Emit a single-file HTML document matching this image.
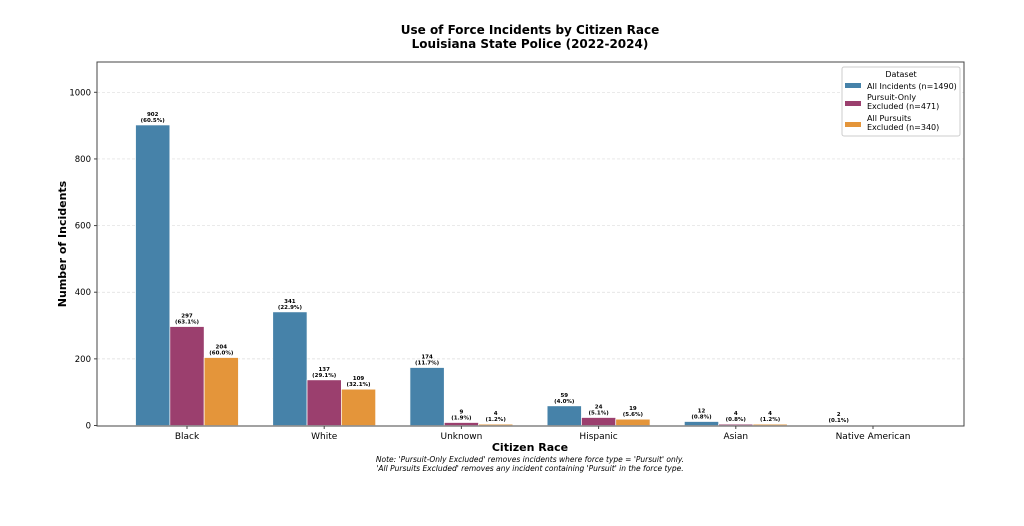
<!DOCTYPE html>
<html><head><meta charset="utf-8"><style>
body{margin:0;background:#fff;}
svg{display:block;font-family:"DejaVu Sans","Liberation Sans",sans-serif;}
</style></head><body>
<svg id="chart" width="1024" height="526" viewBox="0 0 1024 526">
<text x="530" y="34" text-anchor="middle" font-size="12" font-weight="bold">Use of Force Incidents by Citizen Race</text>
<text x="530" y="48" text-anchor="middle" font-size="12" font-weight="bold">Louisiana State Police (2022-2024)</text>
<g id="grid"></g>
<g id="bars"></g>
<g id="labels"></g>
<g id="axes"></g>
<rect x="97" y="62" width="867" height="364" fill="none" stroke="#444" stroke-width="1"/>
<text transform="translate(66,244) rotate(-90)" text-anchor="middle" font-size="11" font-weight="bold">Number of Incidents</text>
<text x="530" y="451" text-anchor="middle" font-size="11" font-weight="bold">Citizen Race</text>
<text x="530" y="462" text-anchor="middle" font-size="7.5" font-style="italic">Note: 'Pursuit-Only Excluded' removes incidents where force type = 'Pursuit' only.</text>
<text x="530" y="471" text-anchor="middle" font-size="7.5" font-style="italic">'All Pursuits Excluded' removes any incident containing 'Pursuit' in the force type.</text>
<g>
<rect x="842" y="67" width="118" height="69" fill="#fff" stroke="#ccc" rx="2"/>
<text x="901" y="77" text-anchor="middle" font-size="8">Dataset</text>
<rect x="845" y="83" width="16" height="5" fill="#4682a9"/>
<text x="867" y="89" font-size="8">All Incidents (n=1490)</text>
<rect x="845" y="101" width="16" height="5" fill="#9b3f6e"/>
<text x="867" y="100" font-size="8"><tspan x="867">Pursuit-Only</tspan><tspan x="867" dy="9">Excluded (n=471)</tspan></text>
<rect x="845" y="122" width="16" height="5" fill="#e4953a"/>
<text x="867" y="121" font-size="8"><tspan x="867">All Pursuits</tspan><tspan x="867" dy="9">Excluded (n=340)</tspan></text>
</g>
</svg>
<script>
const categories = ["Black","White","Unknown","Hispanic","Asian","Native American"];
const allIncidents = [902,341,174,59,12,2];
const pursuitOnlyExcl = [297,137,9,24,4,0];
const allPursuitsExcl = [204,109,4,19,4,0];
const pctAll = ["60.5%","22.9%","11.7%","4.0%","0.8%","0.1%"];
const pctPursuitOnly = ["63.1%","29.1%","1.9%","5.1%","0.8%",""];
const pctAllPursuits = ["60.0%","32.1%","1.2%","5.6%","1.2%",""];
const yTicks = [0,200,400,600,800,1000];

const NS="http://www.w3.org/2000/svg";
const y0=425.5, pxPer=0.3332;
const yS=v=>y0-v*pxPer;
const xS=i=>187+137.2*i;
const bw=34.3;
function mk(tag,attrs,parent){const e=document.createElementNS(NS,tag);for(const k in attrs)e.setAttribute(k,attrs[k]);parent.appendChild(e);return e;}
const grid=document.getElementById('grid'),bars=document.getElementById('bars'),labels=document.getElementById('labels'),axes=document.getElementById('axes');
yTicks.forEach(t=>{
  if(t>0){const g=mk('line',{x1:97,x2:964,y1:yS(t),y2:yS(t),stroke:'#ddd','stroke-dasharray':'3,2','stroke-width':0.7},grid);
  
  }
  const tk=mk('line',{x1:94,x2:97,y1:yS(t),y2:yS(t),stroke:'#444'},axes);
  
  
  const tl=mk('text',{x:91,y:yS(t)+3,'text-anchor':'end','font-size':8.5},axes);
  tl.textContent=t;
  
  
});
categories.forEach((c,i)=>{
  const tk=mk('line',{x1:xS(i),x2:xS(i),y1:426,y2:429,stroke:'#444'},axes);
  
  
  const tl=mk('text',{x:xS(i),y:439,'text-anchor':'middle','font-size':9},axes);
  tl.textContent=c;
  
  
});
const series=[[allIncidents,pctAll,'#4682a9','all'],[pursuitOnlyExcl,pctPursuitOnly,'#9b3f6e','pursuit-only'],[allPursuitsExcl,pctAllPursuits,'#e4953a','all-pursuits']];
series.forEach((s,si)=>{
  s[0].forEach((v,i)=>{
    const cx=xS(i)+(si-1)*bw;
    const r=mk('rect',{x:cx-bw/2,y:yS(v),width:bw,height:v*pxPer,fill:s[2],stroke:'#fff','stroke-width':0.7},bars);
    
    
    if(v>0){
      const t=mk('text',{x:cx,'text-anchor':'middle','font-size':5.5,'font-weight':'bold'},labels);
      const a=mk('tspan',{x:cx,y:yS(v)-9},t);a.textContent=v;
      const b=mk('tspan',{x:cx,y:yS(v)-3},t);b.textContent='('+s[1][i]+')';
      
      
    }
  });
});
</script>
</body></html>
